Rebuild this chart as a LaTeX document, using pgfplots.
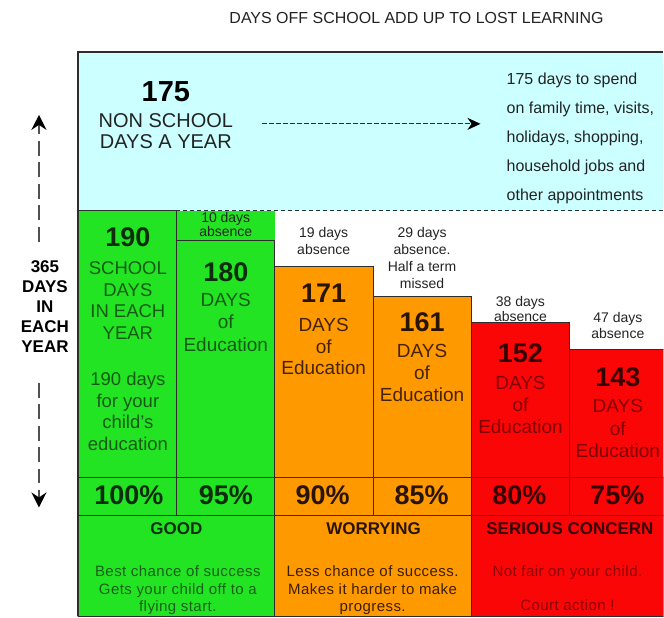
\documentclass[border=0pt]{standalone}
\usepackage{pgfplots}
\pgfplotsset{compat=1.18}
\usepackage{fontspec}
\setmainfont{Liberation Sans}
\newfontfamily\trk[LetterSpace=3]{Liberation Sans}
\usetikzlibrary{arrows.meta}
\definecolor{gr}{RGB}{34,228,34}
\definecolor{orng}{RGB}{255,153,0}
\definecolor{rd}{RGB}{250,6,6}
\definecolor{lb}{RGB}{204,255,255}
\definecolor{lc}{RGB}{45,45,45}
\definecolor{dk}{RGB}{35,35,35}
\definecolor{ag}{RGB}{80,80,80}
\definecolor{tg}{RGB}{20,90,20}
\definecolor{to}{RGB}{70,35,5}
\definecolor{tr}{RGB}{128,0,0}
\definecolor{ng}{RGB}{12,45,12}
\definecolor{no}{RGB}{40,20,0}
\definecolor{nr}{RGB}{55,0,0}
\definecolor{dg}{RGB}{25,95,25}
\definecolor{dor}{RGB}{60,30,0}
\definecolor{dr}{RGB}{140,0,0}
\pgfmathdeclarefunction{hx}{1}{\pgfmathparse{(#1-78)/98.487}}
\pgfmathdeclarefunction{vy}{1}{\pgfmathparse{166.17+(281.17-#1)/2.951}}
\newcommand{\fs}[1]{\fontsize{#1}{#1}\selectfont}
\newcommand{\T}[5][dk]{\node[anchor=base, inner sep=0pt, text=#1, font=#4] at (axis cs:{hx(#2)},{vy(#3)}) {#5};}
\newcommand{\TL}[5][dk]{\node[anchor=base west, inner sep=0pt, text=#1, font=#4] at (axis cs:{hx(#2)},{vy(#3)}) {#5};}
\begin{document}
\begin{tikzpicture}
\begin{axis}[
  scale only axis, width=586pt, height=565pt,
  xmin=0, xmax=5.95, ymin=52.37, ymax=243.83,
  hide axis, clip mode=individual,
  every axis plot post/.append style={bar shift=0pt, bar width=1},
]
% light blue region (non school days)
\addplot[fill=lb, draw=none] coordinates {(0,190)(5.95,190)(5.95,243.83)(0,243.83)} -- cycle;
% green absence box above column 2
\addplot[fill=gr, draw=none] coordinates {(1,180)(2,180)(2,190)(1,190)} -- cycle;
% days of education bars
\addplot[ybar, fill=gr, draw=lc, line width=1pt] coordinates {(0.5,190)(1.5,180)};
\addplot[ybar, fill=orng, draw=lc, line width=1pt] coordinates {(2.5,171)(3.5,161)};
\addplot[ybar, fill=rd, draw=lc, line width=1pt] coordinates {(4.5,152)(5.5,143)};
% dashed separation line
\addplot[draw=lc, line width=0.8pt, dash pattern=on 4pt off 3pt] coordinates {(1,190)(5.95,190)};
% percentage row
\addplot[fill=gr, draw=lc, line width=1pt] coordinates {(0,86.59)(1,86.59)(1,99.47)(0,99.47)} -- cycle;
\addplot[fill=gr, draw=lc, line width=1pt] coordinates {(1,86.59)(2,86.59)(2,99.47)(1,99.47)} -- cycle;
\addplot[fill=orng, draw=lc, line width=1pt] coordinates {(2,86.59)(3,86.59)(3,99.47)(2,99.47)} -- cycle;
\addplot[fill=orng, draw=lc, line width=1pt] coordinates {(3,86.59)(4,86.59)(4,99.47)(3,99.47)} -- cycle;
\addplot[fill=rd, draw=lc, line width=1pt] coordinates {(4,86.59)(5,86.59)(5,99.47)(4,99.47)} -- cycle;
\addplot[fill=rd, draw=lc, line width=1pt] coordinates {(5,86.59)(6,86.59)(6,99.47)(5,99.47)} -- cycle;
% category row
\addplot[fill=gr, draw=lc, line width=1pt] coordinates {(0,52.37)(2,52.37)(2,86.59)(0,86.59)} -- cycle;
\addplot[fill=orng, draw=lc, line width=1pt] coordinates {(2,52.37)(4,52.37)(4,86.59)(2,86.59)} -- cycle;
\addplot[fill=rd, draw=lc, line width=1pt] coordinates {(4,52.37)(6,52.37)(6,86.59)(4,86.59)} -- cycle;
% frame
\draw[lc, line width=1.4pt] (axis cs:0,52.37) -- (axis cs:0,243.83) -- (axis cs:5.95,243.83);
% arrows
\draw[lc, line width=1.2pt, dash pattern=on 5pt off 2pt, -{Stealth[length=13pt,width=12pt,inset=4pt,color=black]}] (axis cs:{hx(262)},{vy(124)}) -- (axis cs:{hx(481)},{vy(124)});
\draw[ag, line width=2.6pt, dash pattern=on 15pt off 6.5pt, -{Stealth[length=15pt,width=15pt,inset=5pt,color=black]}] (axis cs:{hx(39)},{vy(242)}) -- (axis cs:{hx(39)},{vy(115)});
\draw[ag, line width=2.6pt, dash pattern=on 15pt off 6.5pt, -{Stealth[length=15pt,width=15pt,inset=5pt,color=black]}] (axis cs:{hx(39)},{vy(383)}) -- (axis cs:{hx(39)},{vy(508)});
% title
\T[dk]{417}{24}{\fs{16}}{DAYS OFF SCHOOL ADD UP TO LOST LEARNING}
% left label
\T[black]{45}{273}{\bfseries\fs{17}}{365}
\T[black]{45}{293}{\bfseries\fs{17}}{DAYS}
\T[black]{45}{313}{\bfseries\fs{17}}{IN}
\T[black]{45}{333}{\bfseries\fs{17}}{EACH}
\T[black]{45}{353}{\bfseries\fs{17}}{YEAR}
% blue box texts
\T[black]{166}{102}{\bfseries\fs{29}}{175}
\T{166}{128}{\fs{20}}{NON SCHOOL}
\T{166}{149}{\fs{20}}{DAYS A YEAR}
\TL{507}{85}{\fs{16}}{175 days to spend}
\TL{507}{114}{\fs{16}}{on family time, visits,}
\TL{507}{143}{\fs{16}}{holidays, shopping,}
\TL{507}{172}{\fs{16}}{household jobs and}
\TL{507}{201}{\fs{16}}{other appointments}
% column 1
\T[ng]{128}{247}{\bfseries\fs{27}}{190}
\T[tg]{128}{275}{\fs{18.5}}{SCHOOL}
\T[tg]{128}{297}{\fs{18.5}}{DAYS}
\T[tg]{128}{318}{\fs{18.5}}{IN EACH}
\T[tg]{128}{340}{\fs{18.5}}{YEAR}
\T[tg]{128}{386}{\fs{18.5}}{190 days}
\T[tg]{128}{407.5}{\fs{18.5}}{for your}
\T[tg]{128}{429}{\fs{18.5}}{child’s}
\T[tg]{128}{450.5}{\fs{18.5}}{education}
% column 2
\T{226}{223}{\fs{14}}{10 days}
\T{226}{237}{\fs{14}}{absence}
\T[ng]{226}{282}{\bfseries\fs{27}}{180}
\T[tg]{226}{307}{\fs{19}}{DAYS}
\T[tg]{226}{329}{\fs{19}}{of}
\T[tg]{226}{352}{\fs{19}}{Education}
% column 3
\T{324}{238}{\fs{14}}{19 days}
\T{324}{255}{\fs{14}}{absence}
\T[no]{324}{303}{\bfseries\fs{27}}{171}
\T[to]{324}{332}{\fs{19}}{DAYS}
\T[to]{324}{353.5}{\fs{19}}{of}
\T[to]{324}{375}{\fs{19}}{Education}
% column 4
\T{422.5}{238}{\fs{14}}{29 days}
\T{422.5}{255}{\fs{14}}{absence.}
\T{422.5}{272}{\fs{14}}{Half a term}
\T{422.5}{288.5}{\fs{14}}{missed}
\T[no]{422.5}{332}{\bfseries\fs{27}}{161}
\T[to]{422.5}{358}{\fs{19}}{DAYS}
\T[to]{422.5}{380}{\fs{19}}{of}
\T[to]{422.5}{402}{\fs{19}}{Education}
% column 5
\T{521}{306.5}{\fs{14}}{38 days}
\T{521}{322}{\fs{14}}{absence}
\T[nr]{521}{363}{\bfseries\fs{27}}{152}
\T[tr]{521}{390}{\fs{19}}{DAYS}
\T[tr]{521}{412}{\fs{19}}{of}
\T[tr]{521}{433.5}{\fs{19}}{Education}
% column 6
\T{618.5}{323}{\fs{14}}{47 days}
\T{618.5}{338.5}{\fs{14}}{absence}
\T[nr]{618.5}{387}{\bfseries\fs{27}}{143}
\T[tr]{618.5}{413}{\fs{19}}{DAYS}
\T[tr]{618.5}{436}{\fs{19}}{of}
\T[tr]{618.5}{458}{\fs{19}}{Education}
% percentages
\T[ng]{129}{505}{\bfseries\fs{27}}{100\%}
\T[ng]{226}{505}{\bfseries\fs{27}}{95\%}
\T[no]{323}{505}{\bfseries\fs{27}}{90\%}
\T[no]{422}{505}{\bfseries\fs{27}}{85\%}
\T[nr]{520}{505}{\bfseries\fs{27}}{80\%}
\T[nr]{618}{505}{\bfseries\fs{27}}{75\%}
% categories
\T[ng]{176.5}{535}{\bfseries\fs{17}}{GOOD}
\T[no]{374}{535}{\bfseries\fs{17}}{WORRYING}
\T[nr]{570.5}{535}{\bfseries\fs{17}}{SERIOUS CONCERN}
\T[dg]{178}{577}{\trk\fs{15}}{Best chance of success}
\T[dg]{178}{595}{\trk\fs{15}}{Gets your child off to a}
\T[dg]{178}{612}{\trk\fs{15}}{flying start.}
\T[dor]{373}{577}{\trk\fs{15}}{Less chance of success.}
\T[dor]{373}{595}{\trk\fs{15}}{Makes it harder to make}
\T[dor]{373}{612}{\trk\fs{15}}{progress.}
\T[dr]{568}{577}{\trk\fs{15}}{Not fair on your child.}
\T[dr]{568}{611}{\trk\fs{15}}{Court action !}
\end{axis}
\path ([xshift=-78pt]current axis.south west) rectangle ([yshift=52pt]current axis.north east);
\end{tikzpicture}
\end{document}
